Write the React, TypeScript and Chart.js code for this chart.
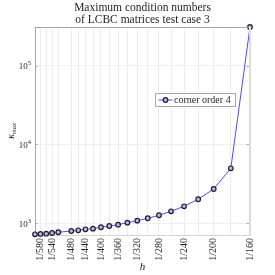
import React, { useEffect, useRef } from "react";
import { Chart, registerables } from "chart.js";

Chart.register(...registerables);

const N_VALUES = [600, 580, 560, 540, 520, 480, 460, 440, 420, 400, 380, 360, 340, 320, 300, 280, 260, 240, 220, 200, 180, 160];
const KAPPA_MAX = [725, 732, 738, 753, 769, 798, 815, 839, 855, 890, 924, 960, 1018, 1080, 1158, 1265, 1420, 1643, 2018, 2725, 4990, 310000];
const LABELED_N = [580, 540, 480, 440, 400, 360, 320, 280, 240, 200, 160];
const Y_TICKS = [1e3, 1e4, 1e5];
const TITLE_LINES = ["Maximum condition numbers", "of LCBC matrices test case 3"];
const SERIES_LABEL = "corner order 4";

const SERIF = '"Liberation Serif", "Times New Roman", serif';
const TEXT = "#262626";
const LINE_BLUE = "#4b4bff";
const MARK_EDGE = "#1c1c3a";
const MARK_FILL = "#b9b9dc";

const overlay = {
  id: "overlay",
  afterDraw(chart: any) {
    const { ctx, chartArea: a, scales } = chart;
    const ys = scales.y;
    ctx.save();
    // borders
    ctx.strokeStyle = "#a6a6a6";
    ctx.lineWidth = 1;
    ctx.beginPath();
    ctx.moveTo(a.left - 0.5, a.top + 0.5);
    ctx.lineTo(a.right, a.top + 0.5);
    ctx.stroke();
    ctx.strokeStyle = "#dcdcdc";
    ctx.lineWidth = 2;
    ctx.beginPath();
    ctx.moveTo(a.right, a.top);
    ctx.lineTo(a.right, a.bottom);
    ctx.stroke();

    // y tick labels
    ys.ticks.forEach((t: any) => {
      const py = ys.getPixelForValue(t.value);
      const exp = String(Math.round(Math.log10(t.value)));
      ctx.fillStyle = TEXT;
      ctx.textBaseline = "alphabetic";
      ctx.textAlign = "left";
      ctx.font = `6.5px ${SERIF}`;
      const ew = ctx.measureText(exp).width;
      const right = a.left - 4;
      ctx.fillText(exp, right - ew, py - 0.5);
      ctx.font = `9px ${SERIF}`;
      ctx.textAlign = "right";
      ctx.fillText("10", right - ew, py + 3.3);
      // inner ticks
      ctx.strokeStyle = "#a6a6a6";
      ctx.lineWidth = 1;
      ctx.beginPath();
      ctx.moveTo(a.left, Math.round(py) + 0.5);
      ctx.lineTo(a.left + 2.5, Math.round(py) + 0.5);
      ctx.moveTo(a.right - 1, Math.round(py) + 0.5);
      ctx.lineTo(a.right - 3.5, Math.round(py) + 0.5);
      ctx.stroke();
    });

    // title
    ctx.fillStyle = TEXT;
    ctx.textAlign = "center";
    ctx.font = `11.5px ${SERIF}`;
    const cx = (a.left + a.right) / 2;
    ctx.fillText(TITLE_LINES[0], cx, 10.5);
    ctx.fillText(TITLE_LINES[1], cx, 23);

    // x title
    ctx.font = `italic 11px ${SERIF}`;
    ctx.fillText("h", cx, 270);

    // y title
    ctx.save();
    ctx.translate(14, (a.top + a.bottom) / 2);
    ctx.rotate(-Math.PI / 2);
    ctx.font = `italic 10px ${SERIF}`;
    const kw = ctx.measureText("κ").width;
    ctx.font = `italic 6.5px ${SERIF}`;
    const sw = ctx.measureText("max").width;
    const x0 = -(kw + sw) / 2;
    ctx.textAlign = "left";
    ctx.font = `italic 10px ${SERIF}`;
    ctx.fillText("κ", x0, 0);
    ctx.font = `italic 6.5px ${SERIF}`;
    ctx.fillText("max", x0 + kw, 2);
    ctx.restore();

    // legend
    const lx = 155.5, ly = 93.5, lw = 80, lh = 13;
    ctx.fillStyle = "#ffffff";
    ctx.fillRect(lx, ly, lw, lh);
    ctx.strokeStyle = "#a8a8a8";
    ctx.lineWidth = 1;
    ctx.strokeRect(lx, ly, lw, lh);
    const my = ly + lh / 2;
    ctx.strokeStyle = LINE_BLUE;
    ctx.beginPath();
    ctx.moveTo(lx + 3, my);
    ctx.lineTo(lx + 17, my);
    ctx.stroke();
    ctx.beginPath();
    ctx.arc(lx + 10, my, 2.3, 0, Math.PI * 2);
    ctx.fillStyle = MARK_FILL;
    ctx.fill();
    ctx.strokeStyle = MARK_EDGE;
    ctx.lineWidth = 1.2;
    ctx.stroke();
    ctx.fillStyle = TEXT;
    ctx.font = `10px ${SERIF}`;
    ctx.textAlign = "left";
    ctx.fillText(SERIES_LABEL, lx + 18.5, my + 3.3);

    ctx.restore();
  },
};

export default function App() {
  const ref = useRef<HTMLCanvasElement | null>(null);
  useEffect(() => {
    if (!ref.current) return;
    const points = N_VALUES.map((n, i) => ({ x: 1 / n, y: KAPPA_MAX[i] }));
    const chart = new Chart(ref.current, {
      type: "line",
      data: {
        datasets: [
          {
            label: SERIES_LABEL,
            data: points,
            borderColor: LINE_BLUE,
            borderWidth: 1,
            pointRadius: 2.3,
            pointBorderWidth: 1.2,
            pointBorderColor: MARK_EDGE,
            pointBackgroundColor: MARK_FILL,
            clip: false as any,
            tension: 0,
          },
        ],
      },
      options: {
        animation: false,
        responsive: false,
        devicePixelRatio: 1,
        layout: { padding: { top: 27, right: 25, left: 0, bottom: 0 } },
        plugins: {
          legend: { display: false },
          title: { display: false },
          tooltip: { enabled: false },
        },
        scales: {
          x: {
            type: "logarithmic",
            min: 1 / 600,
            max: 1 / 160,
            afterBuildTicks: (scale: any) => {
              scale.ticks = N_VALUES.slice().reverse().reverse().map((n) => ({ value: 1 / n })).sort((p: any, q: any) => p.value - q.value);
            },
            afterFit: (scale: any) => {
              scale.height = 40;
            },
            ticks: {
              autoSkip: false,
              minRotation: 90,
              maxRotation: 90,
              padding: 3,
              color: TEXT,
              font: { family: SERIF, size: 10 },
              callback: (value: any) => {
                const n = Math.round(1 / Number(value));
                return LABELED_N.includes(n) ? `1/${n}` : "";
              },
            },
            grid: { color: "#ececec", lineWidth: 1, drawTicks: false },
            border: { display: true, color: "#d4d4d4", width: 1 },
          },
          y: {
            type: "logarithmic",
            min: 710,
            max: 310000,
            afterBuildTicks: (scale: any) => {
              scale.ticks = Y_TICKS.map((v) => ({ value: v }));
            },
            afterFit: (scale: any) => {
              scale.width = 35;
            },
            ticks: { display: false },
            grid: { color: "#efefef", lineWidth: 1, drawTicks: false },
            border: { display: true, color: "#a6a6a6", width: 1 },
          },
        },
      },
      plugins: [overlay],
    });
    return () => chart.destroy();
  }, []);
  return (
    <div style={{ position: "fixed", left: 0, top: 0, width: 275, height: 275, background: "#fff" }}>
      <canvas ref={ref} width={275} height={275} />
    </div>
  );
}
